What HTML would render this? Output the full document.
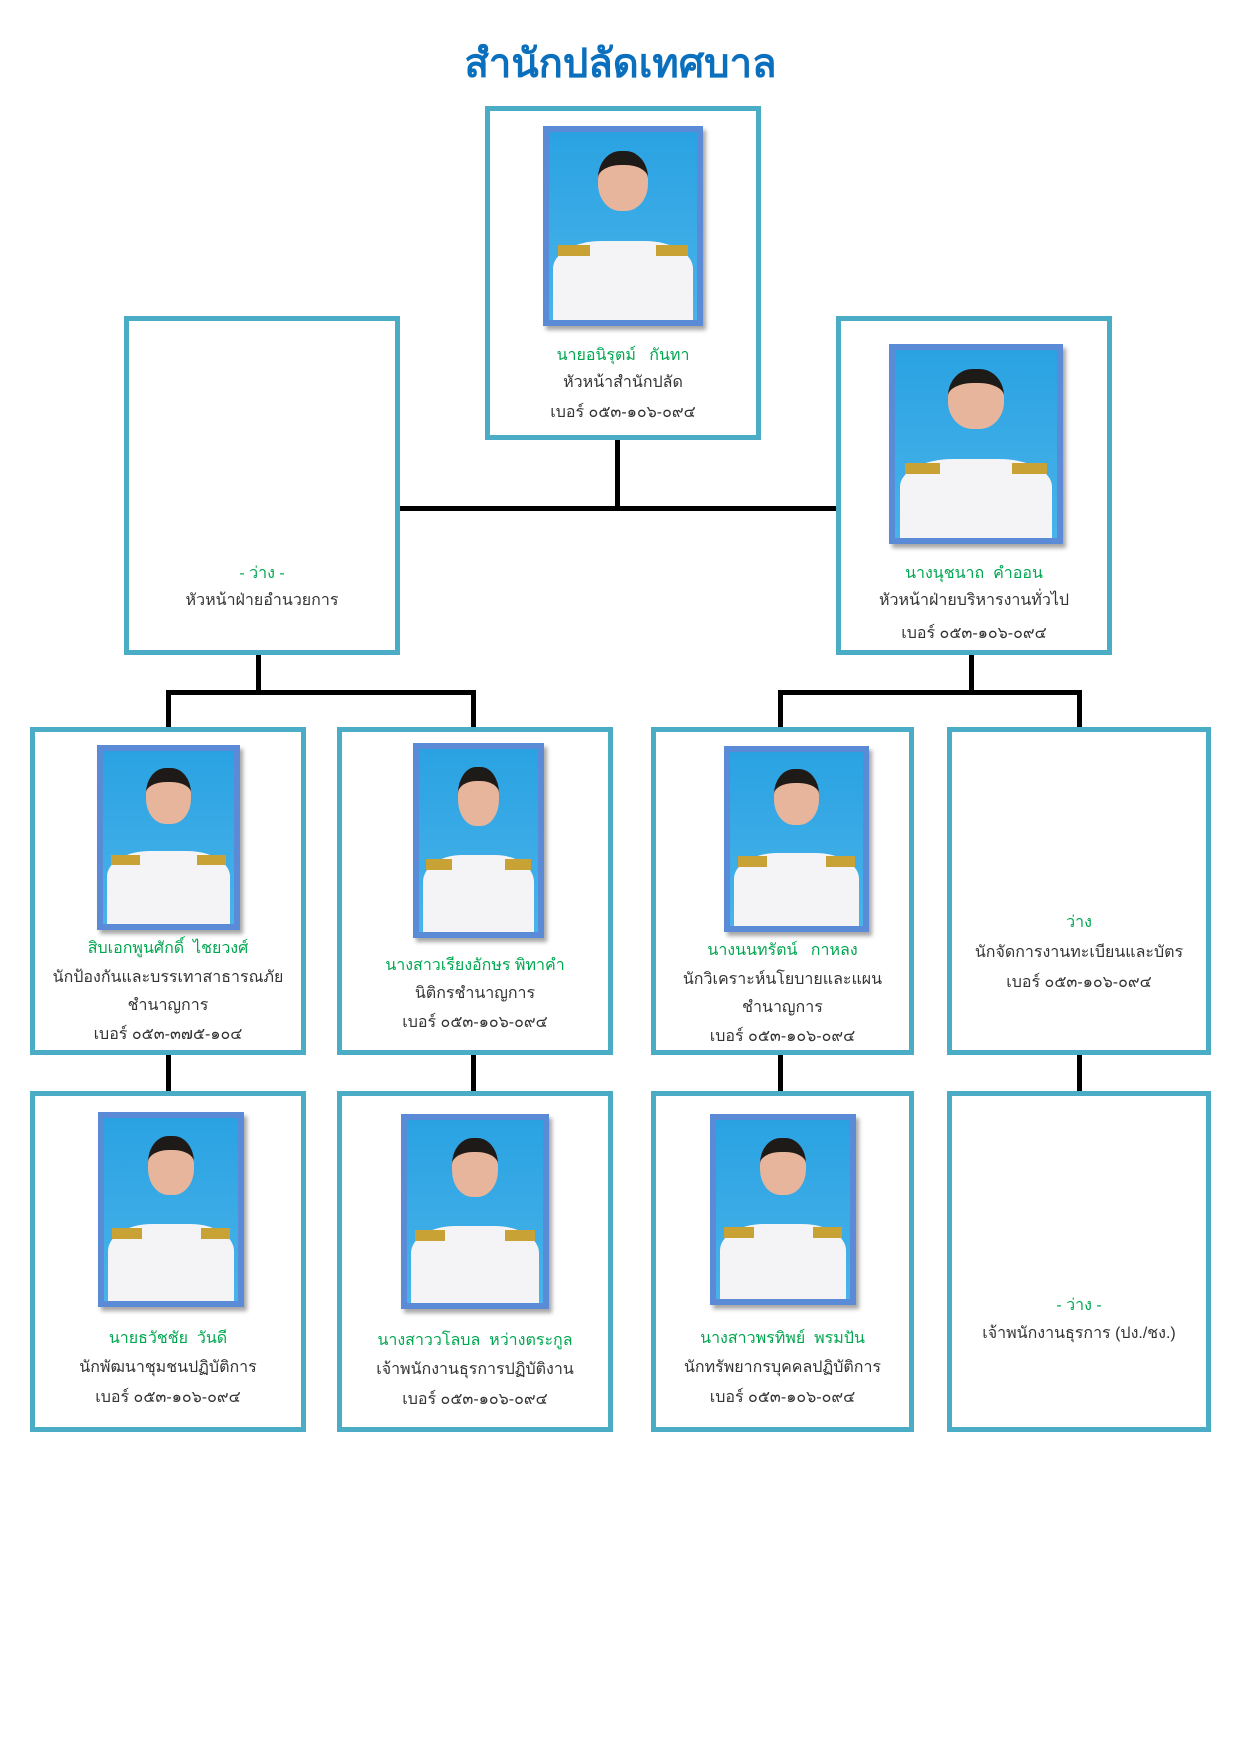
<!DOCTYPE html>
<html><head><meta charset="utf-8"><style>
*{margin:0;padding:0;box-sizing:border-box}
body{width:1241px;height:1755px;background:#fff;position:relative;overflow:hidden;font-family:"Liberation Sans","DejaVu Sans",sans-serif}
.box{position:absolute;border:5px solid #4bacc6;background:#fff}
.ln{position:absolute;background:#000}
.ph{position:absolute;border:6px solid #5b8bd6;background:linear-gradient(180deg,#2aa2e2,#49b3ea);overflow:hidden;box-shadow:3px 4px 4px rgba(0,0,0,.35)}
.ph .b{position:absolute;left:3%;right:3%;bottom:0;height:42%;background:#f4f4f6;border-radius:35% 35% 0 0}
.ph .h{position:absolute;left:33%;width:34%;top:10%;height:32%;background:#e6b59c;border-radius:45%;border-top:14px solid #1e1a18}
.ph .e1,.ph .e2{position:absolute;top:60%;height:6%;width:22%;background:#c9a235}
.ph .e1{left:6%}.ph .e2{right:6%}
.t{position:absolute;text-align:center;font-size:16px;color:#333;white-space:nowrap;line-height:20px}
.g{color:#00a650}
</style></head><body>
<div class="t" style="left:0;width:1241px;top:40px;font-size:40px;line-height:48px;color:#0a6fbd;font-weight:bold">สำนักปลัดเทศบาล</div>

<div class="ln" style="left:615px;top:439px;width:5px;height:72px"></div>
<div class="ln" style="left:399px;top:506px;width:437px;height:5px"></div>
<div class="ln" style="left:256px;top:654px;width:5px;height:40px"></div>
<div class="ln" style="left:166px;top:690px;width:310px;height:5px"></div>
<div class="ln" style="left:166px;top:690px;width:5px;height:38px"></div>
<div class="ln" style="left:471px;top:690px;width:5px;height:38px"></div>
<div class="ln" style="left:969px;top:654px;width:5px;height:40px"></div>
<div class="ln" style="left:778px;top:690px;width:304px;height:5px"></div>
<div class="ln" style="left:778px;top:690px;width:5px;height:38px"></div>
<div class="ln" style="left:1077px;top:690px;width:5px;height:38px"></div>
<div class="ln" style="left:166px;top:1054px;width:5px;height:38px"></div>
<div class="ln" style="left:471px;top:1054px;width:5px;height:38px"></div>
<div class="ln" style="left:778px;top:1054px;width:5px;height:38px"></div>
<div class="ln" style="left:1077px;top:1054px;width:5px;height:38px"></div>

<div class="box" style="left:485px;top:106px;width:276px;height:334px"></div>
<div class="ph" style="left:543px;top:126px;width:160px;height:200px"><div class="h"></div><div class="b"></div><div class="e1"></div><div class="e2"></div></div>
<div class="t g" style="left:485px;width:276px;top:346px">นายอนิรุตม์ &nbsp; กันทา</div>
<div class="t" style="left:485px;width:276px;top:373px">หัวหน้าสำนักปลัด</div>
<div class="t" style="left:485px;width:276px;top:403px">เบอร์ ๐๕๓-๑๐๖-๐๙๔</div>

<div class="box" style="left:124px;top:316px;width:276px;height:339px"></div>
<div class="t g" style="left:124px;width:276px;top:564px">- ว่าง -</div>
<div class="t" style="left:124px;width:276px;top:591px">หัวหน้าฝ่ายอำนวยการ</div>

<div class="box" style="left:836px;top:316px;width:276px;height:339px"></div>
<div class="ph" style="left:889px;top:344px;width:174px;height:200px"><div class="h"></div><div class="b"></div><div class="e1"></div><div class="e2"></div></div>
<div class="t g" style="left:836px;width:276px;top:564px">นางนุชนาถ &nbsp;คำออน</div>
<div class="t" style="left:836px;width:276px;top:591px">หัวหน้าฝ่ายบริหารงานทั่วไป</div>
<div class="t" style="left:836px;width:276px;top:624px">เบอร์ ๐๕๓-๑๐๖-๐๙๔</div>

<div class="box" style="left:30px;top:727px;width:276px;height:328px"></div>
<div class="ph" style="left:97px;top:745px;width:143px;height:185px"><div class="h"></div><div class="b"></div><div class="e1"></div><div class="e2"></div></div>
<div class="t g" style="left:30px;width:276px;top:939px">สิบเอกพูนศักดิ์ &nbsp;ไชยวงศ์</div>
<div class="t" style="left:30px;width:276px;top:968px">นักป้องกันและบรรเทาสาธารณภัย</div>
<div class="t" style="left:30px;width:276px;top:996px">ชำนาญการ</div>
<div class="t" style="left:30px;width:276px;top:1025px">เบอร์ ๐๕๓-๓๗๕-๑๐๔</div>

<div class="box" style="left:337px;top:727px;width:276px;height:328px"></div>
<div class="ph" style="left:413px;top:743px;width:131px;height:195px"><div class="h"></div><div class="b"></div><div class="e1"></div><div class="e2"></div></div>
<div class="t g" style="left:337px;width:276px;top:956px">นางสาวเรียงอักษร พิทาคำ</div>
<div class="t" style="left:337px;width:276px;top:984px">นิติกรชำนาญการ</div>
<div class="t" style="left:337px;width:276px;top:1013px">เบอร์ ๐๕๓-๑๐๖-๐๙๔</div>

<div class="box" style="left:651px;top:727px;width:263px;height:328px"></div>
<div class="ph" style="left:724px;top:746px;width:145px;height:186px"><div class="h"></div><div class="b"></div><div class="e1"></div><div class="e2"></div></div>
<div class="t g" style="left:651px;width:263px;top:941px">นางนนทรัตน์ &nbsp; กาหลง</div>
<div class="t" style="left:651px;width:263px;top:970px">นักวิเคราะห์นโยบายและแผน</div>
<div class="t" style="left:651px;width:263px;top:998px">ชำนาญการ</div>
<div class="t" style="left:651px;width:263px;top:1027px">เบอร์ ๐๕๓-๑๐๖-๐๙๔</div>

<div class="box" style="left:947px;top:727px;width:264px;height:328px"></div>
<div class="t g" style="left:947px;width:264px;top:913px">ว่าง</div>
<div class="t" style="left:947px;width:264px;top:943px">นักจัดการงานทะเบียนและบัตร</div>
<div class="t" style="left:947px;width:264px;top:973px">เบอร์ ๐๕๓-๑๐๖-๐๙๔</div>

<div class="box" style="left:30px;top:1091px;width:276px;height:341px"></div>
<div class="ph" style="left:98px;top:1112px;width:146px;height:195px"><div class="h"></div><div class="b"></div><div class="e1"></div><div class="e2"></div></div>
<div class="t g" style="left:30px;width:276px;top:1329px">นายธวัชชัย &nbsp;วันดี</div>
<div class="t" style="left:30px;width:276px;top:1358px">นักพัฒนาชุมชนปฏิบัติการ</div>
<div class="t" style="left:30px;width:276px;top:1388px">เบอร์ ๐๕๓-๑๐๖-๐๙๔</div>

<div class="box" style="left:337px;top:1091px;width:276px;height:341px"></div>
<div class="ph" style="left:401px;top:1114px;width:148px;height:195px"><div class="h"></div><div class="b"></div><div class="e1"></div><div class="e2"></div></div>
<div class="t g" style="left:337px;width:276px;top:1331px">นางสาววโลบล &nbsp;หว่างตระกูล</div>
<div class="t" style="left:337px;width:276px;top:1360px">เจ้าพนักงานธุรการปฏิบัติงาน</div>
<div class="t" style="left:337px;width:276px;top:1390px">เบอร์ ๐๕๓-๑๐๖-๐๙๔</div>

<div class="box" style="left:651px;top:1091px;width:263px;height:341px"></div>
<div class="ph" style="left:710px;top:1114px;width:146px;height:191px"><div class="h"></div><div class="b"></div><div class="e1"></div><div class="e2"></div></div>
<div class="t g" style="left:651px;width:263px;top:1329px">นางสาวพรทิพย์ &nbsp;พรมปัน</div>
<div class="t" style="left:651px;width:263px;top:1358px">นักทรัพยากรบุคคลปฏิบัติการ</div>
<div class="t" style="left:651px;width:263px;top:1388px">เบอร์ ๐๕๓-๑๐๖-๐๙๔</div>

<div class="box" style="left:947px;top:1091px;width:264px;height:341px"></div>
<div class="t g" style="left:947px;width:264px;top:1296px">- ว่าง -</div>
<div class="t" style="left:947px;width:264px;top:1324px">เจ้าพนักงานธุรการ (ปง./ชง.)</div>
</body></html>
